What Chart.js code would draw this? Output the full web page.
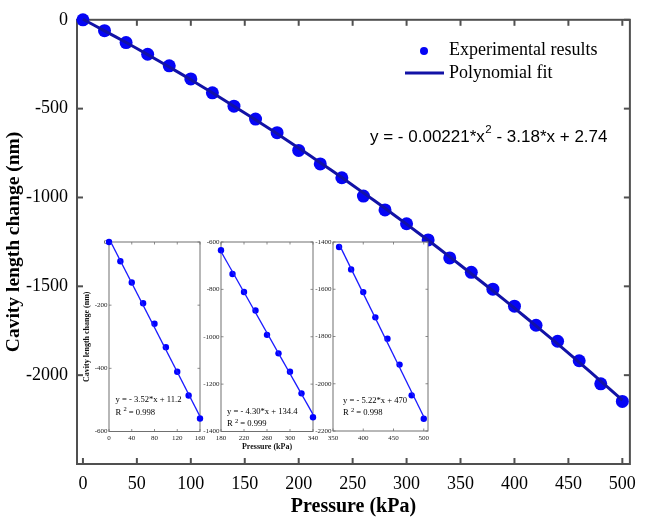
<!DOCTYPE html>
<html><head><meta charset="utf-8">
<script src="https://cdn.jsdelivr.net/npm/chart.js@4.4.1/dist/chart.umd.min.js"></script>
<style>
html,body{margin:0;padding:0;background:#fff;}
#wrap{position:relative;width:645px;height:521px;background:#fff;}
#wrap canvas{position:absolute;left:0;top:0;}
</style></head><body>
<div id="wrap">
<canvas id="main" width="645" height="521"></canvas>
<canvas id="in1" width="645" height="521"></canvas>
<canvas id="in2" width="645" height="521"></canvas>
<canvas id="in3" width="645" height="521"></canvas>
</div>
<script>
// ---- data ----
const pressure = [0,20,40,60,80,100,120,140,160,180,200,220,240,260,280,300,320,340,360,380,400,420,440,460,480,500];
const measured = [0,-61,-128,-194,-259,-333,-411,-486,-559,-635,-735,-811,-889,-992,-1070,-1148,-1239,-1340,-1421,-1516,-1612,-1719,-1809,-1919,-2049,-2148];
const fitCurve = [3,-62,-128,-196,-266,-337,-411,-486,-563,-641,-722,-804,-888,-974,-1061,-1150,-1241,-1334,-1429,-1525,-1623,-1723,-1824,-1928,-2033,-2140];
const mainXTicks = [0,50,100,150,200,250,300,350,400,450,500];
const mainYTicks = [0,-500,-1000,-1500,-2000];

const in1X = [0,160],   in1Fit = [11,-552];
const in2X = [180,340], in2Fit = [-640,-1328];
const in3X = [360,500], in3Fit = [-1409,-2140];
const in1XTicks = [0,40,80,120,160],  in1YTicks = [0,-200,-400,-600];
const in2XTicks = [180,220,260,300,340], in2YTicks = [-600,-800,-1000,-1200,-1400];
const in3XTicks = [350,400,450,500], in3YTicks = [-1400,-1600,-1800,-2000,-2200];

const labels = {
  points: 'Experimental results',
  fit: 'Polynomial fit',
  xTitle: 'Pressure (kPa)',
  yTitle: 'Cavity length change (nm)',
  eq: ['y = - 0.00221*x', '2', ' - 3.18*x + 2.74']
};
const insetText = [
  ['y = - 3.52*x + 11.2', '0.998'],
  ['y = - 4.30*x + 134.4', '0.999'],
  ['y = - 5.22*x + 470', '0.998']
];

// ---- styles ----
const serif = "'Liberation Serif','Times New Roman',serif";
const sans = "'Liberation Sans',Arial,sans-serif";
const W = 645, H = 521;

const frameTicks = {
  id: 'frameTicks',
  beforeDraw(chart, args, o) {
    if (!o.bg) return;
    const {ctx, chartArea: a} = chart;
    ctx.save(); ctx.fillStyle = o.bg;
    ctx.fillRect(a.left, a.top, a.right - a.left, a.bottom - a.top);
    ctx.restore();
  },
  beforeDatasetsDraw(chart, args, o) {
    const {ctx, chartArea: a, scales} = chart;
    ctx.save();
    ctx.strokeStyle = o.color; ctx.lineWidth = o.width;
    ctx.strokeRect(a.left, a.top, a.right - a.left, a.bottom - a.top);
    ctx.lineWidth = o.tickWidth;
    const L = o.len;
    const seg = (x1,y1,x2,y2)=>{ctx.beginPath();ctx.moveTo(x1,y1);ctx.lineTo(x2,y2);ctx.stroke();};
    scales.x.ticks.forEach(t => {
      const px = scales.x.getPixelForValue(t.value);
      seg(px, a.bottom, px, a.bottom - L);
      seg(px, a.top, px, a.top + L);
    });
    scales.y.ticks.forEach(t => {
      const py = scales.y.getPixelForValue(t.value);
      seg(a.left, py, a.left + L, py);
      seg(a.right, py, a.right - L, py);
    });
    ctx.restore();
  }
};

const mainDeco = {
  id: 'mainDeco',
  afterDraw(chart) {
    const {ctx} = chart;
    const ds = chart.data.datasets;
    const pts = ds.find(d => d.label === labels.points);
    const fit = ds.find(d => d.label === labels.fit);
    ctx.save();
    // legend
    ctx.fillStyle = pts.backgroundColor;
    ctx.beginPath(); ctx.arc(424, 51, 4, 0, Math.PI*2); ctx.fill();
    ctx.strokeStyle = fit.borderColor; ctx.lineWidth = fit.borderWidth;
    ctx.beginPath(); ctx.moveTo(405, 73); ctx.lineTo(444, 73); ctx.stroke();
    ctx.fillStyle = '#000';
    ctx.font = '18px ' + serif;
    ctx.textBaseline = 'middle'; ctx.textAlign = 'left';
    ctx.fillText(pts.label, 449, 50);
    ctx.fillText(fit.label, 449, 73);
    // equation
    ctx.font = '17px ' + sans;
    let x = 370;
    ctx.fillText(labels.eq[0], x, 137);
    x += ctx.measureText(labels.eq[0]).width + 0.5;
    ctx.font = '11.5px ' + sans;
    ctx.fillText(labels.eq[1], x, 129.5);
    x += ctx.measureText(labels.eq[1]).width;
    ctx.font = '17px ' + sans;
    ctx.fillText(labels.eq[2], x, 137);
    ctx.restore();
  }
};

const fmt = v => String(v);

new Chart(document.getElementById('main'), {
  type: 'scatter',
  data: {
    datasets: [
      { label: labels.fit, type: 'line',
        data: pressure.map((x, i) => ({x, y: fitCurve[i]})),
        borderColor: '#1212a6', borderWidth: 3, pointRadius: 0, tension: 0.4,
        fill: false, order: 0, clip: false },
      { label: labels.points,
        data: pressure.map((x, i) => ({x, y: measured[i]})),
        backgroundColor: '#0505f5', borderColor: '#0505f5', pointRadius: 6.5,
        borderWidth: 0, order: 1, clip: false }
    ]
  },
  options: {
    responsive: false, animation: false, events: [],
    layout: { padding: { left: 0, top: 12, right: 12, bottom: 0 } },
    plugins: {
      legend: { display: false }, tooltip: { enabled: false },
      frameTicks: { color: '#505050', width: 2, tickWidth: 2, len: 6 }
    },
    scales: {
      x: {
        type: 'linear', min: -5.5, max: 507,
        afterBuildTicks: s => { s.ticks = mainXTicks.map(v => ({value: v})); },
        afterFit: s => { s.height = 57; },
        grid: { display: false, drawTicks: false }, border: { display: false },
        ticks: { font: { family: serif, size: 18 }, color: '#000', padding: 9, callback: fmt, maxRotation: 0 },
        title: { display: true, text: labels.xTitle, color: '#000',
                 font: { family: serif, size: 20, weight: 'bold' }, padding: { top: 0, bottom: 2 } }
      },
      y: {
        type: 'linear', min: -2500, max: 0,
        afterBuildTicks: s => { s.ticks = mainYTicks.map(v => ({value: v})); },
        afterFit: s => { s.width = 77; },
        grid: { display: false, drawTicks: false }, border: { display: false },
        ticks: { font: { family: serif, size: 18 }, color: '#000', padding: 9, callback: fmt },
        title: { display: true, text: labels.yTitle, color: '#000',
                 font: { family: serif, size: 19.5, weight: 'bold' }, padding: { top: 2, bottom: 0 } }
      }
    }
  },
  plugins: [frameTicks, mainDeco]
});

function makeInset(id, xs, ys, fx, fy, xr, yr, xt, yt, area, txt, opt) {
  const yW = 30, xH = 22;
  const deco = {
    id: 'insetDeco',
    afterDraw(chart) {
      const {ctx, chartArea: a} = chart;
      ctx.save();
      ctx.fillStyle = '#000'; ctx.textAlign = 'left'; ctx.textBaseline = 'middle';
      ctx.font = '8.6px ' + serif;
      ctx.fillText(txt[0], a.left + opt.tx, opt.ty);
      let x = a.left + opt.tx;
      ctx.fillText('R', x, opt.ty + 12.5);
      x += ctx.measureText('R ').width;
      ctx.font = '6.5px ' + serif;
      ctx.fillText('2', x, opt.ty + 9.5);
      x += ctx.measureText('2').width;
      ctx.font = '8.6px ' + serif;
      ctx.fillText(' = ' + txt[1], x, opt.ty + 12.5);
      ctx.restore();
    }
  };
  new Chart(document.getElementById(id), {
    type: 'scatter',
    data: {
      datasets: [
        { label: 'fit', type: 'line', data: fx.map((x, i) => ({x, y: fy[i]})),
          borderColor: '#1a1aff', borderWidth: 1.3, pointRadius: 0, order: 0 },
        { label: 'pts', data: xs.map((x, i) => ({x, y: ys[i]})),
          backgroundColor: '#0000ff', borderColor: '#0000ff', borderWidth: 0,
          pointRadius: 3.2, order: 1, clip: false }
      ]
    },
    options: {
      responsive: false, animation: false, events: [],
      layout: { padding: { left: area.left - yW, top: area.top, right: W - area.right, bottom: H - area.bottom - xH } },
      plugins: {
        legend: { display: false }, tooltip: { enabled: false },
        frameTicks: { color: '#707070', width: 1, tickWidth: 0.8, len: 2.5, bg: '#fff' }
      },
      scales: {
        x: {
          type: 'linear', min: xr[0], max: xr[1],
          afterBuildTicks: s => { s.ticks = xt.map(v => ({value: v})); },
          afterFit: s => { s.height = xH; },
          grid: { display: false, drawTicks: false }, border: { display: false },
          ticks: { font: { family: serif, size: 7 }, color: '#222', padding: 2.5, callback: fmt, maxRotation: 0, autoSkip: false },
          title: { display: !!opt.xTitle, text: labels.xTitle, color: '#111',
                   font: { family: serif, size: 8, weight: 'bold' }, padding: { top: 0, bottom: 1.5 } }
        },
        y: {
          type: 'linear', min: yr[0], max: yr[1],
          afterBuildTicks: s => { s.ticks = yt.map(v => ({value: v})); },
          afterFit: s => { s.width = yW; },
          grid: { display: false, drawTicks: false }, border: { display: false },
          ticks: { font: { family: serif, size: 7 }, color: '#222', padding: 1.5, callback: fmt, autoSkip: false },
          title: { display: !!opt.yTitle, text: labels.yTitle, color: '#111',
                   font: { family: serif, size: 8, weight: 'bold' }, padding: { top: 3, bottom: 0 } }
        }
      }
    },
    plugins: [frameTicks, deco]
  });
}

makeInset('in1', pressure.slice(0, 9), measured.slice(0, 9), in1X, in1Fit,
  [0, 160], [-600, 0], in1XTicks, in1YTicks,
  {left: 109, top: 242, right: 200, bottom: 431.5}, insetText[0], {tx: 6.5, ty: 400, yTitle: true});
makeInset('in2', pressure.slice(9, 18), measured.slice(9, 18), in2X, in2Fit,
  [180, 340], [-1400, -600], in2XTicks, in2YTicks,
  {left: 221, top: 242, right: 313, bottom: 431.5}, insetText[1], {tx: 6, ty: 411.5, xTitle: true});
makeInset('in3', pressure.slice(18), measured.slice(18), in3X, in3Fit,
  [350, 507], [-2200, -1400], in3XTicks, in3YTicks,
  {left: 333, top: 242, right: 428, bottom: 431}, insetText[2], {tx: 10, ty: 400.5});
</script>
</body></html>
